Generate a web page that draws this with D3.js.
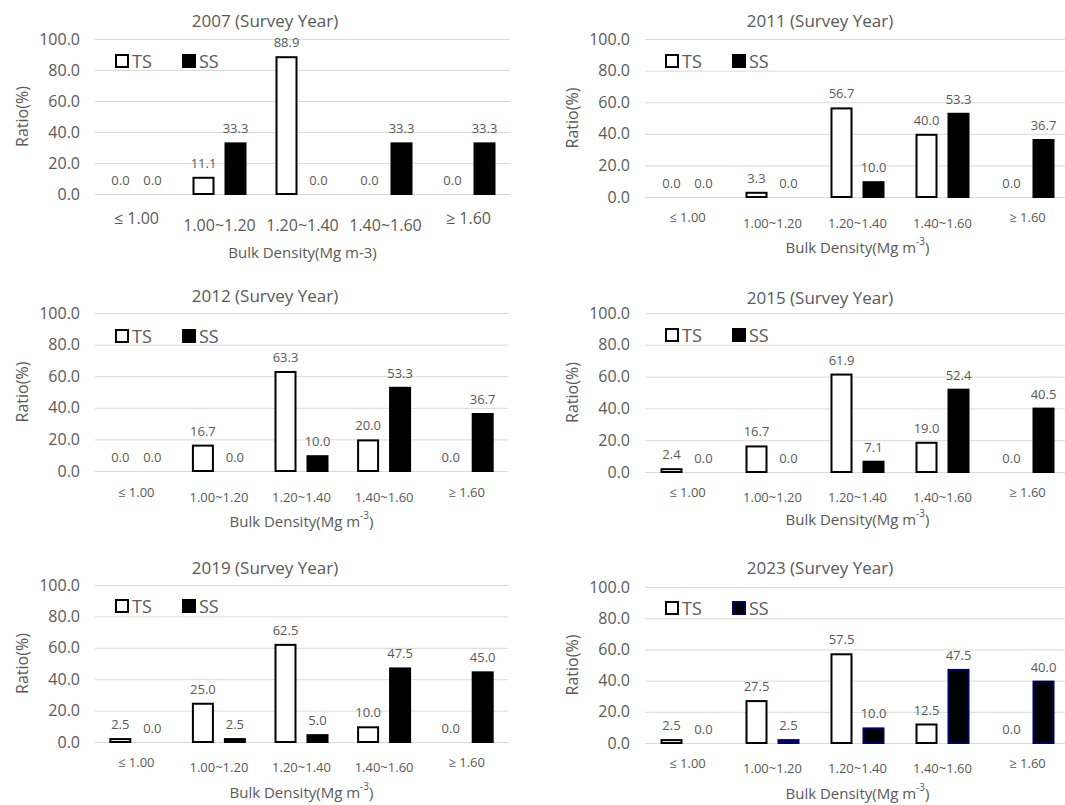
<!DOCTYPE html>
<html>
<head>
<meta charset="utf-8">
<script src="https://cdn.jsdelivr.net/npm/d3@7"></script>
<style>
  html, body { margin: 0; padding: 0; background: #fff; }
  svg { display: block; font-family: "Open Sans", "Noto Sans", sans-serif; }
</style>
</head>
<body>
<svg id="chart" width="1065" height="805"></svg>
<script>
// ---- data ----
const categories = ["\u2264 1.00", "1.00~1.20", "1.20~1.40", "1.40~1.60", "\u2265 1.60"];
const years = ["2007", "2011", "2012", "2015", "2019", "2023"];
const yTicks = [0, 20, 40, 60, 80, 100];
const seriesNames = ["TS", "SS"];

const ts2007 = [0.0, 11.1, 88.9, 0.0, 0.0];
const ss2007 = [0.0, 33.3, 0.0, 33.3, 33.3];
const ts2011 = [0.0, 3.3, 56.7, 40.0, 0.0];
const ss2011 = [0.0, 0.0, 10.0, 53.3, 36.7];
const ts2012 = [0.0, 16.7, 63.3, 20.0, 0.0];
const ss2012 = [0.0, 0.0, 10.0, 53.3, 36.7];
const ts2015 = [2.4, 16.7, 61.9, 19.0, 0.0];
const ss2015 = [0.0, 0.0, 7.1, 52.4, 40.5];
const ts2019 = [2.5, 25.0, 62.5, 10.0, 0.0];
const ss2019 = [0.0, 2.5, 5.0, 47.5, 45.0];
const ts2023 = [2.5, 27.5, 57.5, 12.5, 0.0];
const ss2023 = [0.0, 2.5, 10.0, 47.5, 40.0];

const tsSeries = [ts2007, ts2011, ts2012, ts2015, ts2019, ts2023];
const ssSeries = [ss2007, ss2011, ss2012, ss2015, ss2019, ss2023];

// ---- layout (positions / styles) ----
const layout = [
  {x0: 95,  x1: 510,  y0: 39,  y1: 194, titleX: 265, titleY: 20,  tickY: 225, tickYs: 218, axisY: 252, legY: 55,  big: true,  sup: false, ssStroke: "#000"},
  {x0: 645, x1: 1070, y0: 39,  y1: 197, titleX: 820, titleY: 20,  tickY: 223, tickYs: 217, axisY: 247, legY: 55,  big: false, sup: true,  ssStroke: "#000"},
  {x0: 95,  x1: 508,  y0: 313, y1: 471, titleX: 265, titleY: 295, tickY: 497, tickYs: 492, axisY: 521, legY: 330, big: false, sup: true,  ssStroke: "#000"},
  {x0: 645, x1: 1070, y0: 313, y1: 472, titleX: 820, titleY: 297, tickY: 497, tickYs: 492, axisY: 519, legY: 329, big: false, sup: true,  ssStroke: "#000"},
  {x0: 95,  x1: 508,  y0: 585, y1: 742, titleX: 265, titleY: 567, tickY: 767, tickYs: 762, axisY: 792, legY: 600, big: false, sup: true,  ssStroke: "#000"},
  {x0: 645, x1: 1070, y0: 587, y1: 743, titleX: 820, titleY: 567, tickY: 768, tickYs: 763, axisY: 793, legY: 602, big: false, sup: true,  ssStroke: "#000066"}
];

const textColor = "#595959";
const gridColor = "#d9d9d9";
const svg = d3.select("#chart");

years.forEach((yr, i) => {
  const L = layout[i];
  const ts = tsSeries[i], ss = ssSeries[i];
  const g = svg.append("g");

  const x = d3.scaleBand().domain(categories).range([L.x0, L.x1]);
  const bw = x.bandwidth();
  const xs = d3.scaleBand().domain(seriesNames).range([bw / 2 - 27, bw / 2 + 27]).paddingInner(10 / 32).paddingOuter(0);
  const y = d3.scaleLinear().domain([0, 100]).range([L.y1, L.y0]);

  // gridlines
  const grid = g.append("g").attr("transform", `translate(${L.x0},0)`)
    .call(d3.axisLeft(y).tickValues(yTicks).tickSize(-(L.x1 - L.x0)).tickFormat(""));
  grid.select(".domain").remove();
  grid.selectAll("line").attr("stroke", gridColor).attr("stroke-width", 1);

  // y tick labels
  const ya = g.append("g").attr("transform", `translate(${L.x0 - 15},0)`)
    .call(d3.axisLeft(y).tickValues(yTicks).tickSize(0).tickPadding(0).tickFormat(d3.format(".1f")));
  ya.select(".domain").remove();
  ya.selectAll("text").attr("fill", textColor).style("font-size", "16px")
    .style("font-family", "'Open Sans', sans-serif");

  // y axis title
  g.append("text")
    .attr("transform", `translate(${L.x0 - 73},${(L.y0 + L.y1) / 2}) rotate(-90)`)
    .attr("text-anchor", "middle").attr("dominant-baseline", "central")
    .attr("fill", textColor).style("font-size", "16px").text("Ratio(%)");

  // title
  g.append("text").attr("x", L.titleX).attr("y", L.titleY)
    .attr("text-anchor", "middle").attr("dominant-baseline", "central")
    .attr("fill", textColor).style("font-size", "17px").text(`${yr} (Survey Year)`);

  // bars
  const rows = categories.map((c, k) => ({cat: c, TS: ts[k], SS: ss[k]}));
  const cg = g.selectAll(".cat").data(rows).join("g")
    .attr("transform", d => `translate(${x(d.cat)},0)`);
  cg.selectAll("rect").data(d => seriesNames.map(s => ({s, v: d[s]}))).join("rect")
    .attr("x", d => xs(d.s) + 1)
    .attr("width", xs.bandwidth() - 2)
    .attr("y", d => y(d.v) + 1)
    .attr("height", d => Math.max(0, y(0) - y(d.v) - 1))
    .attr("fill", d => d.s === "TS" ? "#fff" : "#000")
    .attr("stroke", d => d.s === "TS" ? "#000" : L.ssStroke)
    .attr("stroke-width", 2)
    .attr("display", d => d.v > 0 ? null : "none");
  cg.selectAll("text.val").data(d => seriesNames.map(s => ({s, v: d[s]}))).join("text")
    .attr("class", "val")
    .attr("x", d => xs(d.s) + xs.bandwidth() / 2)
    .attr("y", d => y(d.v) - 9)
    .attr("text-anchor", "middle")
    .attr("fill", textColor).style("font-size", "13px")
    .text(d => d3.format(".1f")(d.v));

  // x tick labels
  g.selectAll("text.xt").data(categories).join("text")
    .attr("class", "xt")
    .attr("x", d => x(d) + bw / 2)
    .attr("y", d => (d.startsWith("\u2264") || d.startsWith("\u2265")) ? L.tickYs : L.tickY)
    .attr("text-anchor", "middle").attr("dominant-baseline", "central")
    .attr("fill", textColor).style("font-size", L.big ? "16px" : "13px")
    .text(d => d);

  // x axis title
  const at = g.append("text").attr("x", (L.x0 + L.x1) / 2).attr("y", L.axisY)
    .attr("text-anchor", "middle").attr("dominant-baseline", "central")
    .attr("fill", textColor).style("font-size", "15px");
  if (L.sup) {
    at.append("tspan").text("Bulk Density(Mg m");
    at.append("tspan").attr("dy", -6).style("font-size", "10px").text("-3");
    at.append("tspan").attr("dy", 6).text(")");
  } else {
    at.text("Bulk Density(Mg m-3)");
  }

  // legend
  const lx = L.x0 + 21;
  seriesNames.forEach((s, k) => {
    const bx = lx + k * 67;
    g.append("rect").attr("x", bx).attr("y", L.legY).attr("width", 12).attr("height", 12)
      .attr("fill", s === "TS" ? "#fff" : "#000")
      .attr("stroke", s === "TS" ? "#000" : L.ssStroke).attr("stroke-width", 2);
    g.append("text").attr("x", bx + 16).attr("y", L.legY + 6)
      .attr("dominant-baseline", "central")
      .attr("fill", textColor).style("font-size", "18px").text(s);
  });
});
</script>
</body>
</html>
